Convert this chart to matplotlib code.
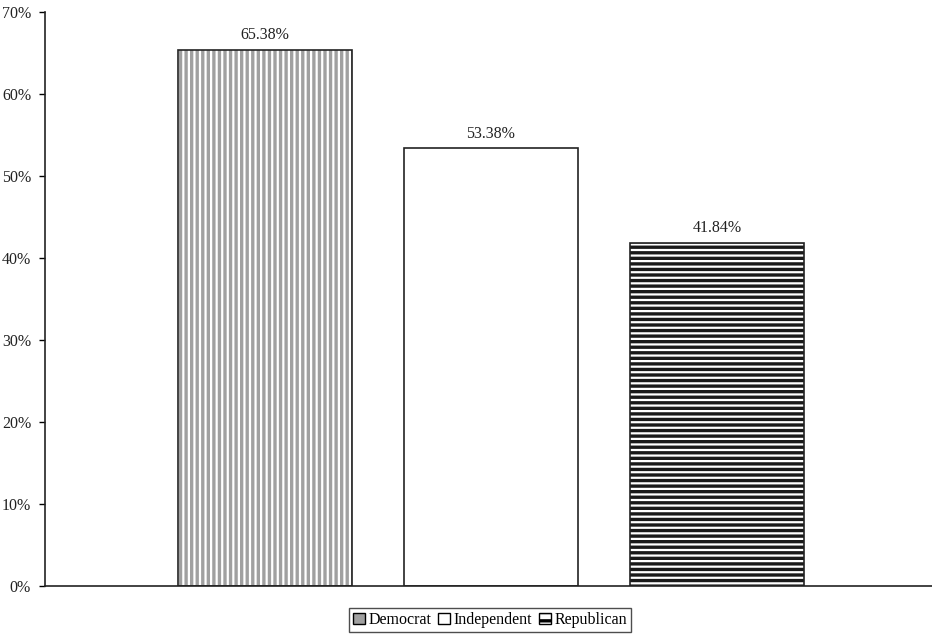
import numpy as np
import matplotlib.pyplot as plt
from matplotlib.patches import Patch

parties = ["Democrat", "Independent", "Republican"]
values = [65.38, 53.38, 41.84]
labels = ["65.38%", "53.38%", "41.84%"]
hatches = ["|||", "", "---"]
hatch_colors = ["#a0a0a0", "black", "#1a1a1a"]
yticks = [0, 10, 20, 30, 40, 50, 60, 70]

plt.rcParams['font.family'] = ['Liberation Serif', 'DejaVu Serif']
plt.rcParams['hatch.linewidth'] = 2.4

fig = plt.figure(figsize=(9.32, 6.35), dpi=100)
ax = fig.add_axes([45 / 932, 49 / 635, 887 / 932, 574 / 635])

x = np.arange(len(parties))
w = 0.77
# fill with hatch first, then outline on top
for i in range(len(parties)):
    ax.bar(x[i], values[i], w, color="white", hatch=hatches[i],
           edgecolor=hatch_colors[i], linewidth=0, zorder=2)
    ax.bar(x[i], values[i], w, color="none", edgecolor="#222222",
           linewidth=1.2, zorder=3)
    ax.text(x[i], values[i] + 0.8, labels[i], ha="center", va="bottom",
            fontsize=11.5, color="#222222")

ax.set_xlim(-0.973, 2.951)
ax.set_ylim(0, 70)
ax.set_yticks(yticks)
ax.set_yticklabels([f"{t}%" for t in yticks], fontsize=11.5, color="#222222")
ax.set_xticks([])
ax.tick_params(axis="y", direction="out", length=4, width=1, pad=6)
for s in ["top", "right"]:
    ax.spines[s].set_visible(False)
for s in ["left", "bottom"]:
    ax.spines[s].set_linewidth(1.2)
    ax.spines[s].set_color("#222222")

# small square legend markers
handles = [
    Patch(facecolor="#a0a0a0", edgecolor="black", linewidth=1, label=parties[0]),
    Patch(facecolor="white", edgecolor="black", linewidth=1, label=parties[1]),
    Patch(facecolor="white", edgecolor="black", hatch="--", linewidth=1, label=parties[2]),
]

leg = fig.legend(handles=handles, loc="center", bbox_to_anchor=(490 / 932, 15 / 635),
                 ncol=3, fontsize=11.5, frameon=True, fancybox=False,
                 handlelength=0.75, handleheight=0.75, handletextpad=0.25,
                 columnspacing=0.4, borderpad=0.25, borderaxespad=0)
leg.get_frame().set_edgecolor("#222222")
leg.get_frame().set_linewidth(1)

fig.savefig("out.png", dpi=100)
